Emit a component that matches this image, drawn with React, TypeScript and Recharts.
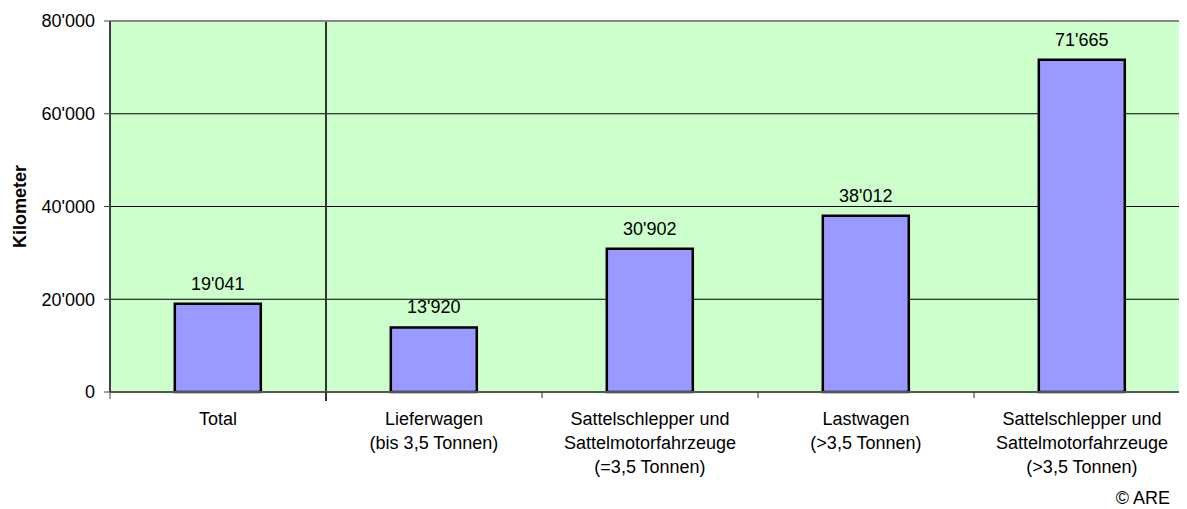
import React from "react";
import { BarChart, Bar, XAxis, YAxis, CartesianGrid, ReferenceLine, LabelList } from "recharts";

const categories = ["Total", "Lieferwagen", "Sattel_eq35", "Lastwagen", "Sattel_gt35"];
const categoryLabels: string[][] = [
  ["Total"],
  ["Lieferwagen", "(bis 3,5 Tonnen)"],
  ["Sattelschlepper und", "Sattelmotorfahrzeuge", "(=3,5 Tonnen)"],
  ["Lastwagen", "(>3,5 Tonnen)"],
  ["Sattelschlepper und", "Sattelmotorfahrzeuge", "(>3,5 Tonnen)"],
];
const kilometers = [19041, 13920, 30902, 38012, 71665];
const yTicks = [0, 20000, 40000, 60000, 80000];

const data = categories.map((c, i) => ({ cat: c, km: kilometers[i] }));

const FONT = "'Liberation Sans', Arial, Helvetica, sans-serif";
const fmt = (n: number) => String(Math.round(n)).replace(/\B(?=(\d{3})+(?!\d))/g, "'");

const CHART_W = 1195;
const M_LEFT = 110;
const M_RIGHT = 5;
const BAND = (CHART_W - M_LEFT - M_RIGHT) / categories.length;

const CatTick = (props: any) => {
  const { x, y, payload, index } = props;
  const idx = categories.indexOf(payload.value);
  const lines = categoryLabels[idx] || [];
  const ax = y - 8;
  return (
    <g>
      {index === 0 && (
        <line x1={x - BAND / 2} x2={x - BAND / 2} y1={ax} y2={ax + 7} stroke="#444" strokeWidth={1} />
      )}
      {index < categories.length - 1 && (
        <line
          x1={x + BAND / 2}
          x2={x + BAND / 2}
          y1={ax}
          y2={ax + (index === 0 ? 9 : 6)}
          stroke="#333"
          strokeWidth={index === 0 ? 2 : 1}
        />
      )}
      <text x={x} y={ax + 33} textAnchor="middle" fontFamily={FONT} fontSize={18} fill="#000">
        {lines.map((l, i) => (
          <tspan key={i} x={x} dy={i === 0 ? 0 : 24}>
            {l}
          </tspan>
        ))}
      </text>
    </g>
  );
};

const YLabel = (props: any) => {
  const { viewBox } = props;
  const cy = viewBox.y + viewBox.height / 2;
  return (
    <text
      x={26}
      y={cy}
      transform={`rotate(-90, 26, ${cy})`}
      textAnchor="middle"
      fontFamily={FONT}
      fontSize={18}
      fontWeight="bold"
      fill="#000"
    >
      Kilometer
    </text>
  );
};

export default function App() {
  return (
    <div style={{ margin: "-8px 0 0 -8px", width: CHART_W, height: 509, position: "relative", overflow: "hidden" }}>
      <BarChart
        width={CHART_W}
        height={509}
        data={data}
        margin={{ top: 21, right: M_RIGHT, bottom: 0, left: 0 }}
        barCategoryGap="30%"
      >
        <CartesianGrid fill="#CCFFCC" stroke="#000" strokeWidth={1} vertical={false} />
        <CartesianGrid
          horizontal={false}
          stroke="#333"
          strokeWidth={2}
          verticalCoordinatesGenerator={({ offset }: any) => [offset.left + offset.width / categories.length]}
        />
        <XAxis
          dataKey="cat"
          tick={<CatTick />}
          tickLine={false}
          tickSize={0}
          tickMargin={8}
          axisLine={{ stroke: "#555", strokeWidth: 2 }}
          interval={0}
          height={117}
        />
        <YAxis
          width={M_LEFT}
          domain={[0, 80000]}
          ticks={yTicks}
          tickFormatter={fmt}
          tick={{ fontFamily: FONT, fontSize: 18, fill: "#000" }}
          tickLine={{ stroke: "#444", strokeWidth: 1 }}
          tickSize={6}
          tickMargin={9}
          axisLine={{ stroke: "#404040", strokeWidth: 2 }}
          label={<YLabel />}
        />
        <ReferenceLine y={80000} stroke="#888" strokeWidth={2} />
        <Bar dataKey="km" fill="#9999FF" stroke="#000" strokeWidth={2.5} isAnimationActive={false}>
          <LabelList
            dataKey="km"
            position="top"
            offset={14}
            formatter={(v: any) => fmt(Number(v))}
            style={{ fontFamily: FONT, fontSize: 18, fill: "#000" }}
          />
        </Bar>
      </BarChart>
      <div
        style={{
          position: "absolute",
          right: 25,
          top: 488,
          fontFamily: FONT,
          fontSize: 18,
          color: "#000",
          lineHeight: "20px",
        }}
      >
        © ARE
      </div>
    </div>
  );
}
